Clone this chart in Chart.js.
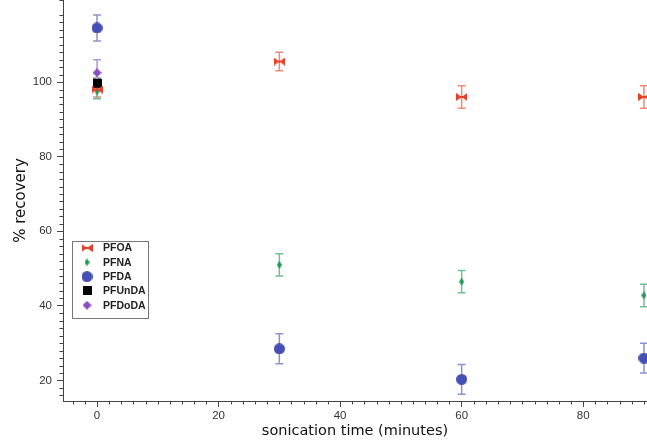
<!DOCTYPE html>
<html>
<head>
<meta charset="utf-8">
<script src="https://cdn.jsdelivr.net/npm/chart.js@4"></script>
<style>
  html, body { margin: 0; padding: 0; background: #fff; }
  #wrap { width: 647px; height: 440px; }
</style>
</head>
<body>
<div id="wrap"><canvas id="recoveryChart" width="647" height="440"></canvas></div>
<script>
// sonication time (minutes)
const times = [0, 30, 60, 90];

// % recovery
const pfoa = [98, 105.5, 96, 96];
const pfoaErr = [2, 2.5, 3, 3];
const pfna = [97.5, 51, 46.5, 42.8];
const pfnaErr = [2, 3, 3, 3];
const pfda = [114.5, 28.5, 20.3, 26];
const pfdaErr = [3.5, 4, 4, 4];
const pfunda = [99.5];
const pfundaErr = [1.5];
const pfdoda = [102.5];
const pfdodaErr = [3.5];

const seriesNames = ["PFOA", "PFNA", "PFDA", "PFUnDA", "PFDoDA"];
const xTicks = [0, 20, 40, 60, 80];
const yTicks = [20, 40, 60, 80, 100];

function makeMarker(kind, color, w, h) {
  const c = document.createElement("canvas");
  c.width = w;
  c.height = h;
  const g = c.getContext("2d");
  g.fillStyle = color;
  g.beginPath();
  if (kind === "bowtie") {
    g.moveTo(0, 0); g.lineTo(w / 2, h / 2); g.lineTo(0, h); g.closePath();
    g.moveTo(w, 0); g.lineTo(w / 2, h / 2); g.lineTo(w, h); g.closePath();
    g.fill();
    g.fillRect(0, h / 2 - 1, w, 2);
    return c;
  }
  if (kind === "diamond") {
    g.moveTo(w / 2, 0); g.lineTo(w, h / 2); g.lineTo(w / 2, h); g.lineTo(0, h / 2); g.closePath();
  } else if (kind === "circle") {
    g.arc(w / 2, h / 2, w / 2, 0, Math.PI * 2);
  } else {
    g.rect(0, 0, w, h);
  }
  g.fill();
  return c;
}

const markers = [
  makeMarker("bowtie", "#e5412b", 11, 8),
  makeMarker("diamond", "#1f9a55", 5, 8),
  makeMarker("circle", "#4650b4", 11, 11),
  makeMarker("square", "#000000", 9, 9),
  makeMarker("diamond", "#8a4cc4", 9, 9),
];
const barColors = ["#ef8a78", "#74c095", "#8e92cf", "#777777", "#b196dc"];

function toPoints(vals, errs) {
  return vals.map((v, i) => ({ x: times[i], y: v, err: errs[i] }));
}

const allValues = [
  toPoints(pfoa, pfoaErr),
  toPoints(pfna, pfnaErr),
  toPoints(pfda, pfdaErr),
  toPoints(pfunda, pfundaErr),
  toPoints(pfdoda, pfdodaErr),
];

const errorBars = {
  id: "errorBars",
  beforeDatasetsDraw(chart) {
    const ctx = chart.ctx;
    const ys = chart.scales.y;
    chart.data.datasets.forEach((ds, di) => {
      const meta = chart.getDatasetMeta(di);
      ctx.save();
      ctx.strokeStyle = barColors[di];
      ctx.lineWidth = 1.5;
      meta.data.forEach((pt, i) => {
        const d = ds.data[i];
        const top = ys.getPixelForValue(d.y + d.err);
        const bot = ys.getPixelForValue(d.y - d.err);
        ctx.beginPath();
        ctx.moveTo(pt.x, top); ctx.lineTo(pt.x, bot);
        ctx.moveTo(pt.x - 4, top); ctx.lineTo(pt.x + 4, top);
        ctx.moveTo(pt.x - 4, bot); ctx.lineTo(pt.x + 4, bot);
        ctx.stroke();
      });
      ctx.restore();
    });
  },
};

const minorTicks = {
  id: "minorTicks",
  afterDraw(chart) {
    const ctx = chart.ctx;
    const xs = chart.scales.x;
    const ys = chart.scales.y;
    ctx.save();
    ctx.strokeStyle = "#444";
    ctx.lineWidth = 1;
    ctx.beginPath();
    for (let v = -4; v <= 90; v += 2) {
      if (v % 20 === 0) continue;
      const px = Math.round(xs.getPixelForValue(v)) + 0.5;
      ctx.moveTo(px, xs.top); ctx.lineTo(px, xs.top + 3.5);
    }
    for (let v = 16; v <= 122; v += 2) {
      if (v % 20 === 0) continue;
      const py = Math.round(ys.getPixelForValue(v)) + 0.5;
      ctx.moveTo(ys.right, py); ctx.lineTo(ys.right - 3.5, py);
    }
    ctx.stroke();
    ctx.restore();
  },
};

const boxLegend = {
  id: "boxLegend",
  afterDraw(chart) {
    const ctx = chart.ctx;
    ctx.save();
    ctx.strokeStyle = "#777";
    ctx.lineWidth = 1;
    ctx.strokeRect(72.5, 241.5, 76, 77);
    ctx.font = "bold 10.5px 'Liberation Sans', Arial, sans-serif";
    ctx.fillStyle = "#222";
    ctx.textBaseline = "middle";
    seriesNames.forEach((name, i) => {
      const y = 248 + i * 14.3;
      const m = markers[i];
      ctx.drawImage(m, 87 - m.width / 2, y - m.height / 2);
      ctx.fillText(name, 103, y + 0.5);
    });
    ctx.restore();
  },
};

new Chart(document.getElementById("recoveryChart"), {
  type: "scatter",
  data: {
    datasets: allValues.map((pts, i) => ({
      label: seriesNames[i],
      data: pts,
      pointStyle: markers[i],
      pointRadius: 5,
      pointHoverRadius: 5,
      clip: false,
    })),
  },
  options: {
    responsive: false,
    animation: false,
    layout: { padding: 0, autoPadding: false },
    plugins: {
      legend: { display: false },
      tooltip: { enabled: false },
    },
    scales: {
      x: {
        type: "linear",
        min: -5.6,
        max: 90.5,
        afterBuildTicks: (s) => { s.ticks = xTicks.map((v) => ({ value: v })); },
        afterFit: (s) => { s.height = 39; s.paddingLeft = 0; s.paddingRight = 0; },
        grid: { drawOnChartArea: false, tickLength: 6, color: "#444" },
        border: { color: "#444", width: 1 },
        ticks: {
          padding: 2,
          color: "#333",
          font: { family: "'Liberation Sans', Arial, sans-serif", size: 11.5 },
        },
        title: {
          display: true,
          text: "sonication time (minutes)",
          color: "#111",
          font: { family: "'DejaVu Sans', sans-serif", size: 14.5 },
          padding: { top: 0, bottom: 0 },
        },
      },
      y: {
        type: "linear",
        min: 14.5,
        max: 122,
        afterBuildTicks: (s) => { s.ticks = yTicks.map((v) => ({ value: v })); },
        afterFit: (s) => { s.width = 63; s.paddingTop = 0; s.paddingBottom = 0; },
        grid: { drawOnChartArea: false, tickLength: 6, color: "#444" },
        border: { color: "#444", width: 1 },
        ticks: {
          padding: 5,
          color: "#333",
          font: { family: "'Liberation Sans', Arial, sans-serif", size: 11.5 },
        },
        title: {
          display: true,
          text: "% recovery",
          color: "#111",
          font: { family: "'DejaVu Sans', sans-serif", size: 15 },
          padding: { top: 12, bottom: 0 },
        },
      },
    },
  },
  plugins: [errorBars, minorTicks, boxLegend],
});
</script>
</body>
</html>
